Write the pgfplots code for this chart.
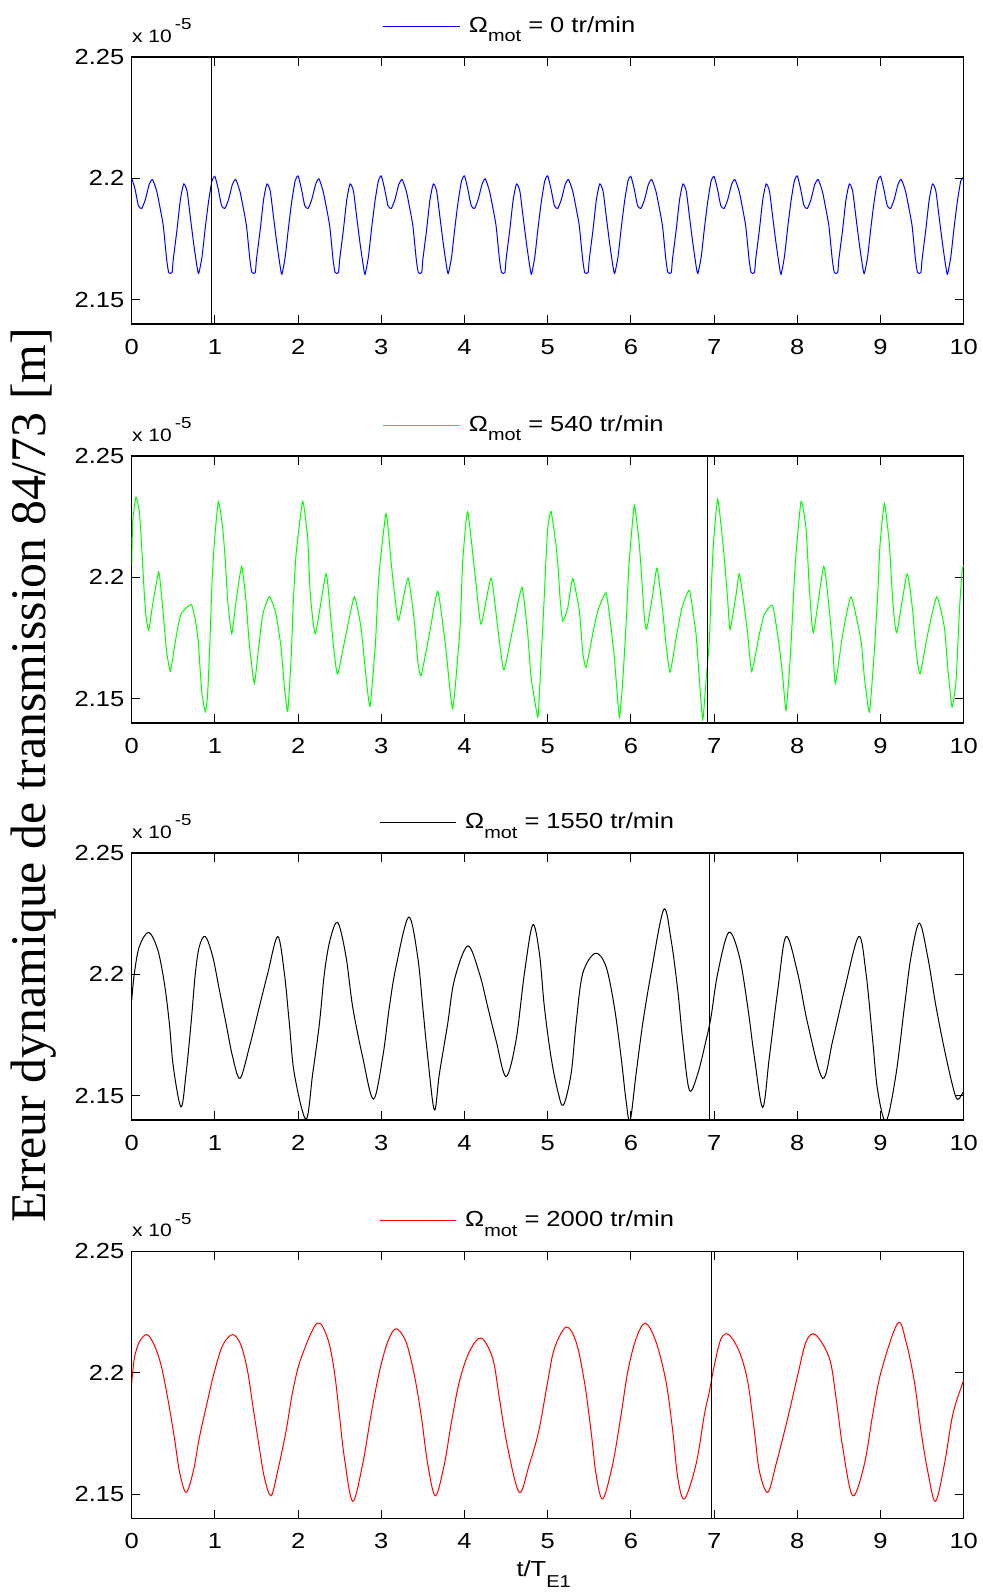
\documentclass[border=0pt]{standalone}
\usepackage{pgfplots}
\pgfplotsset{compat=1.18}
\usepackage{fontspec}
\setmainfont{Liberation Sans}[FakeStretch=1.17]
\newfontfamily\serifbig{Liberation Serif}

\pgfplotsset{
  panel/.style={
    scale only axis, width=416pt, height=133.5pt,
    xmin=0, xmax=10, ymin=2.14, ymax=2.25,
    xtick={0,1,...,10}, ytick={2.15,2.2,2.25},
    tick align=inside, major tick length=4.3pt,
    tick style={black, line width=0.5pt},
    axis line style={black, line width=0.6pt},
    clip mode=individual,
    /pgf/number format/assume math mode=true,
    ticklabel style={font=\fontsize{10.9}{13}\selectfont},
    xticklabel style={anchor=north, inner sep=0pt, yshift=-7.5pt},
    yticklabel style={anchor=east, inner sep=0pt, xshift=-3.5pt},
    legend cell align=left,
    legend style={at={(axis description cs:0.3015,1)}, anchor=west, yshift=15.4pt,
      draw=none, fill=none, inner sep=0pt, font=\fontsize{10.9}{13}\selectfont},
    legend image code/.code={\draw[#1] (0pt,0pt) -- (38.35pt,0pt); \path (40.5pt,0pt);},
  },
}
\newcommand{\xten}{\node[anchor=base west, inner sep=0pt, font=\fontsize{9}{10}\selectfont, yshift=7.3pt] at (rel axis cs:0,1) {x 10\hspace{1.5pt}\raisebox{6.3pt}{\fontsize{8}{9}\selectfont -5}};}
\newcommand{\mot}{\raisebox{-4.7pt}{\fontsize{8.5}{9}\selectfont mot}}

\begin{document}
\begin{tikzpicture}
\path[use as bounding box] (0,0) rectangle (491.5pt,-796.5pt);

% ---------- Panel 1 : 0 tr/min ----------
\begin{axis}[panel, at={(65.85pt,-162pt)}, anchor=south west]
\addplot[blue, line width=0.5pt, smooth, tension=0.35] coordinates {
(0,2.2000)(0.04,2.1956)(0.08,2.1888)(0.12,2.1876)(0.165,2.1914)(0.21,2.1975)(0.25,2.1995)(0.30,2.1948)(0.34,2.1880)(0.38,2.1803)(0.42,2.1667)(0.445,2.1612)(0.485,2.1612)(0.50,2.1667)(0.545,2.1790)(0.585,2.1912)(0.625,2.1977)(0.665,2.1948)(0.705,2.1839)(0.745,2.1731)(0.785,2.1636)(0.805,2.1608)(0.845,2.1677)(0.885,2.1799)(0.925,2.1908)(0.965,2.1990)
(1,2.2008)(1.04,2.1956)(1.08,2.1888)(1.12,2.1876)(1.165,2.1914)(1.21,2.1975)(1.25,2.1995)(1.30,2.1948)(1.34,2.1880)(1.38,2.1803)(1.42,2.1667)(1.445,2.1612)(1.485,2.1612)(1.50,2.1667)(1.545,2.1790)(1.585,2.1912)(1.625,2.1977)(1.665,2.1948)(1.705,2.1839)(1.745,2.1731)(1.785,2.1636)(1.805,2.1605)(1.845,2.1677)(1.885,2.1799)(1.925,2.1908)(1.965,2.1990)
(2,2.2010)(2.04,2.1956)(2.08,2.1888)(2.12,2.1876)(2.165,2.1914)(2.21,2.1975)(2.25,2.1998)(2.30,2.1948)(2.34,2.1880)(2.38,2.1803)(2.42,2.1667)(2.445,2.1612)(2.485,2.1612)(2.50,2.1667)(2.545,2.1790)(2.585,2.1912)(2.625,2.1977)(2.665,2.1948)(2.705,2.1839)(2.745,2.1731)(2.785,2.1636)(2.805,2.1605)(2.845,2.1677)(2.885,2.1799)(2.925,2.1908)(2.965,2.1990)
(3,2.2010)(3.04,2.1956)(3.08,2.1888)(3.12,2.1876)(3.165,2.1914)(3.21,2.1975)(3.25,2.1995)(3.30,2.1948)(3.34,2.1880)(3.38,2.1803)(3.42,2.1667)(3.445,2.1612)(3.485,2.1612)(3.50,2.1667)(3.545,2.1790)(3.585,2.1912)(3.625,2.1977)(3.665,2.1948)(3.705,2.1839)(3.745,2.1731)(3.785,2.1636)(3.805,2.1608)(3.845,2.1677)(3.885,2.1799)(3.925,2.1908)(3.965,2.1990)
(4,2.2010)(4.04,2.1956)(4.08,2.1888)(4.12,2.1876)(4.165,2.1914)(4.21,2.1975)(4.25,2.1998)(4.30,2.1948)(4.34,2.1880)(4.38,2.1803)(4.42,2.1667)(4.445,2.1612)(4.485,2.1612)(4.50,2.1667)(4.545,2.1790)(4.585,2.1912)(4.625,2.1977)(4.665,2.1948)(4.705,2.1839)(4.745,2.1731)(4.785,2.1636)(4.805,2.1605)(4.845,2.1677)(4.885,2.1799)(4.925,2.1908)(4.965,2.1990)
(5,2.2010)(5.04,2.1956)(5.08,2.1888)(5.12,2.1876)(5.165,2.1914)(5.21,2.1975)(5.25,2.1995)(5.30,2.1948)(5.34,2.1880)(5.38,2.1803)(5.42,2.1667)(5.445,2.1612)(5.485,2.1612)(5.50,2.1667)(5.545,2.1790)(5.585,2.1912)(5.625,2.1977)(5.665,2.1948)(5.705,2.1839)(5.745,2.1731)(5.785,2.1636)(5.805,2.1608)(5.845,2.1677)(5.885,2.1799)(5.925,2.1908)(5.965,2.1990)
(6,2.2008)(6.04,2.1956)(6.08,2.1888)(6.12,2.1876)(6.165,2.1914)(6.21,2.1975)(6.25,2.1995)(6.30,2.1948)(6.34,2.1880)(6.38,2.1803)(6.42,2.1667)(6.445,2.1612)(6.485,2.1612)(6.50,2.1667)(6.545,2.1790)(6.585,2.1912)(6.625,2.1977)(6.665,2.1948)(6.705,2.1839)(6.745,2.1731)(6.785,2.1636)(6.805,2.1608)(6.845,2.1677)(6.885,2.1799)(6.925,2.1908)(6.965,2.1990)
(7,2.2008)(7.04,2.1956)(7.08,2.1888)(7.12,2.1876)(7.165,2.1914)(7.21,2.1975)(7.25,2.1995)(7.30,2.1948)(7.34,2.1880)(7.38,2.1803)(7.42,2.1667)(7.445,2.1612)(7.485,2.1612)(7.50,2.1667)(7.545,2.1790)(7.585,2.1912)(7.625,2.1977)(7.665,2.1948)(7.705,2.1839)(7.745,2.1731)(7.785,2.1636)(7.805,2.1605)(7.845,2.1677)(7.885,2.1799)(7.925,2.1908)(7.965,2.1990)
(8,2.2010)(8.04,2.1956)(8.08,2.1888)(8.12,2.1876)(8.165,2.1914)(8.21,2.1975)(8.25,2.1995)(8.30,2.1948)(8.34,2.1880)(8.38,2.1803)(8.42,2.1667)(8.445,2.1612)(8.485,2.1612)(8.50,2.1667)(8.545,2.1790)(8.585,2.1912)(8.625,2.1977)(8.665,2.1948)(8.705,2.1839)(8.745,2.1731)(8.785,2.1636)(8.805,2.1608)(8.845,2.1677)(8.885,2.1799)(8.925,2.1908)(8.965,2.1990)
(9,2.2008)(9.04,2.1956)(9.08,2.1888)(9.12,2.1876)(9.165,2.1914)(9.21,2.1975)(9.25,2.1995)(9.30,2.1948)(9.34,2.1880)(9.38,2.1803)(9.42,2.1667)(9.445,2.1612)(9.485,2.1612)(9.50,2.1667)(9.545,2.1790)(9.585,2.1912)(9.625,2.1977)(9.665,2.1948)(9.705,2.1839)(9.745,2.1731)(9.785,2.1636)(9.805,2.1605)(9.845,2.1677)(9.885,2.1799)(9.925,2.1908)(9.965,2.1990)
(10,2.2005)
};
\addlegendentry{Ω\mot{} = 0 tr/min}
\addplot[black, line width=0.5pt, forget plot] coordinates {(0.96,2.14)(0.96,2.25)};
\xten
\end{axis}

% ---------- Panel 2 : 540 tr/min ----------
\begin{axis}[panel, at={(65.85pt,-361.5pt)}, anchor=south west]
\addplot[green, line width=0.5pt, smooth, tension=0.3] coordinates {
(0,2.2050)(0.012,2.2229)(0.052,2.2331)(0.092,2.2270)(0.112,2.2174)(0.132,2.2052)(0.152,2.1929)(0.172,2.1841)(0.204,2.1783)(0.252,2.1888)(0.325,2.2022)(0.365,2.1902)(0.393,2.1793)(0.421,2.1691)(0.465,2.1613)(0.513,2.1711)(0.561,2.1807)(0.601,2.1854)(0.717,2.1888)(0.773,2.1807)(0.801,2.1732)(0.821,2.1629)(0.845,2.1520)(0.885,2.1446)(0.913,2.1520)(0.942,2.1752)(0.966,2.1984)(0.994,2.2147)
(1.042,2.2313)(1.094,2.2202)(1.126,2.2065)(1.154,2.1902)(1.202,2.1768)(1.254,2.1902)(1.322,2.2045)(1.374,2.1902)(1.414,2.1725)(1.474,2.1564)(1.526,2.1711)(1.575,2.1847)(1.655,2.1921)(1.735,2.1847)(1.795,2.1711)(1.835,2.1548)(1.875,2.1448)(1.915,2.1657)(1.943,2.1902)(1.975,2.2093)
(2.055,2.2313)(2.115,2.2161)(2.147,2.1929)(2.208,2.1768)(2.336,2.2015)(2.396,2.1820)(2.436,2.1684)(2.476,2.1602)(2.576,2.1766)(2.676,2.1920)(2.756,2.1793)(2.817,2.1589)(2.865,2.1469)(2.929,2.1725)(2.969,2.1997)
(3.057,2.2263)(3.117,2.2065)(3.169,2.1902)(3.209,2.1823)(3.321,2.1997)(3.397,2.1820)(3.438,2.1657)(3.478,2.1595)(3.578,2.1766)(3.678,2.1943)(3.770,2.1725)(3.858,2.1459)(3.946,2.1793)(3.978,2.2065)
(4.038,2.2270)(4.131,2.1997)(4.199,2.1807)(4.319,2.1997)(4.399,2.1793)(4.439,2.1684)(4.479,2.1620)(4.599,2.1820)(4.692,2.1959)(4.760,2.1766)(4.800,2.1589)(4.880,2.1425)
(4.900,2.1520)(4.932,2.1738)(4.960,2.1929)(4.980,2.2079)(5.000,2.2202)(5.040,2.2272)(5.100,2.2134)(5.128,2.2025)(5.148,2.1916)(5.180,2.1820)(5.241,2.1875)(5.301,2.1995)(5.381,2.1861)(5.421,2.1691)(5.461,2.1629)(5.541,2.1766)(5.601,2.1861)(5.701,2.1936)(5.761,2.1793)(5.801,2.1670)(5.829,2.1548)(5.862,2.1425)(5.894,2.1534)(5.922,2.1684)(5.950,2.1861)(5.974,2.2038)
(6.002,2.2161)(6.042,2.2297)(6.094,2.2161)(6.122,2.2038)(6.162,2.1834)(6.190,2.1786)(6.262,2.1929)(6.314,2.2038)(6.382,2.1861)(6.422,2.1725)(6.471,2.1609)(6.551,2.1766)(6.615,2.1875)(6.703,2.1946)(6.783,2.1766)(6.815,2.1616)(6.863,2.1414)(6.903,2.1575)(6.943,2.1738)(6.963,2.1929)(6.991,2.2134)
(7.043,2.2322)(7.104,2.2147)(7.136,2.2025)(7.164,2.1902)(7.192,2.1786)(7.264,2.1929)(7.304,2.2015)(7.364,2.1875)(7.404,2.1766)(7.452,2.1613)(7.544,2.1766)(7.604,2.1847)(7.704,2.1884)(7.785,2.1711)(7.825,2.1589)(7.865,2.1452)(7.913,2.1657)(7.945,2.1861)(7.977,2.2065)
(8.045,2.2313)(8.105,2.2202)(8.145,2.1956)(8.193,2.1772)(8.317,2.2045)(8.386,2.1861)(8.426,2.1711)(8.458,2.1564)(8.546,2.1766)(8.646,2.1920)(8.766,2.1738)(8.806,2.1589)(8.866,2.1446)(8.918,2.1657)(8.966,2.1929)(8.994,2.2134)
(9.047,2.2304)(9.107,2.2134)(9.147,2.1902)(9.195,2.1772)(9.319,2.2014)(9.387,2.1861)(9.427,2.1698)(9.475,2.1602)(9.567,2.1766)(9.676,2.1920)(9.768,2.1793)(9.808,2.1629)(9.860,2.1466)(9.908,2.1575)(9.948,2.1861)(9.980,2.2025)(10,2.2050)
};
\addlegendentry{Ω\mot{} = 540 tr/min}
\addplot[black, line width=0.5pt, forget plot] coordinates {(6.923,2.14)(6.923,2.25)};
\xten
\end{axis}

% ---------- Panel 3 : 1550 tr/min ----------
\begin{axis}[panel, at={(65.85pt,-560pt)}, anchor=south west,
  legend style={at={(axis description cs:0.297,1)}}]
\addplot[black, line width=0.5pt, smooth, tension=0.55] coordinates {
(0,2.1894)(0.032,2.2004)(0.092,2.2115)(0.204,2.2173)(0.313,2.2101)(0.393,2.1963)(0.453,2.1797)(0.501,2.1617)(0.593,2.1454)(0.653,2.1590)(0.713,2.1797)(0.765,2.2004)(0.813,2.2115)(0.885,2.2156)(0.974,2.2073)
(1.054,2.1935)(1.134,2.1797)(1.214,2.1659)(1.302,2.1572)(1.414,2.1700)(1.534,2.1866)(1.635,2.2004)(1.755,2.2156)(1.835,2.2004)(1.895,2.1797)(1.955,2.1590)
(2.095,2.1403)(2.175,2.1590)(2.256,2.1797)(2.316,2.2004)(2.384,2.2142)(2.476,2.2214)(2.576,2.2073)(2.656,2.1866)(2.776,2.1659)(2.905,2.1486)
(3.017,2.1659)(3.097,2.1866)(3.177,2.2032)(3.329,2.2236)(3.437,2.2073)(3.498,2.1866)(3.558,2.1659)(3.638,2.1441)(3.698,2.1590)(3.798,2.1797)(3.878,2.1977)
(4.038,2.2117)(4.179,2.2004)(4.279,2.1866)(4.379,2.1728)(4.499,2.1579)(4.619,2.1728)(4.720,2.2004)(4.820,2.2204)(4.900,2.2087)(4.960,2.1866)
(5.040,2.1659)(5.120,2.1521)(5.188,2.1461)(5.281,2.1590)(5.341,2.1797)(5.421,2.2004)(5.573,2.2087)(5.701,2.2032)(5.801,2.1866)(5.882,2.1659)(5.942,2.1479)(5.990,2.1396)
(6.062,2.1590)(6.142,2.1797)(6.242,2.2004)(6.394,2.2267)(6.483,2.2142)(6.563,2.1935)(6.623,2.1728)(6.703,2.1523)(6.803,2.1590)(6.903,2.1728)(6.963,2.1825)
(7.043,2.2004)(7.176,2.2173)(7.304,2.2073)(7.404,2.1866)(7.484,2.1659)(7.584,2.1452)(7.664,2.1659)(7.765,2.1935)(7.865,2.2156)
(8.005,2.2004)(8.125,2.1797)(8.305,2.1572)(8.426,2.1728)(8.566,2.1935)(8.738,2.2156)(8.826,2.2004)(8.906,2.1728)(8.966,2.1521)
(9.067,2.1396)(9.187,2.1590)(9.287,2.1866)(9.367,2.2073)(9.467,2.2211)(9.567,2.2073)(9.668,2.1866)(9.788,2.1659)(9.908,2.1493)(9.980,2.1507)(10,2.1520)
};
\addlegendentry{Ω\mot{} = 1550 tr/min}
\addplot[black, line width=0.5pt, forget plot] coordinates {(6.943,2.14)(6.943,2.25)};
\xten
\end{axis}

% ---------- Panel 4 : 2000 tr/min ----------
\begin{axis}[panel, at={(65.85pt,-759.15pt)}, anchor=south west,
  legend style={at={(axis description cs:0.297,1)}},
  xlabel={t/T\raisebox{-5.5pt}{\fontsize{8.6}{9}\selectfont E1}},
  xlabel style={at={(axis description cs:0.5,0)}, anchor=base, inner sep=0pt,
    yshift=-29pt, xshift=-2pt, font=\fontsize{10.9}{13}\selectfont}]
\addplot[red, line width=0.5pt, smooth, tension=0.55] coordinates {
(0,2.1956)(0.032,2.2059)(0.092,2.2127)(0.184,2.2157)(0.272,2.2113)(0.353,2.2031)(0.433,2.1895)(0.513,2.1732)(0.573,2.1595)(0.653,2.1507)(0.741,2.1595)(0.813,2.1732)(0.901,2.1868)(0.994,2.2004)
(1.094,2.2113)(1.214,2.2157)(1.314,2.2113)(1.394,2.2004)(1.454,2.1868)(1.534,2.1691)(1.595,2.1568)(1.675,2.1493)(1.755,2.1595)(1.855,2.1759)(1.935,2.1922)
(2.035,2.2059)(2.228,2.2204)(2.356,2.2140)(2.436,2.2004)(2.496,2.1827)(2.556,2.1650)(2.656,2.1470)(2.776,2.1623)(2.877,2.1827)(2.977,2.2004)
(3.077,2.2127)(3.177,2.2181)(3.297,2.2127)(3.397,2.1990)(3.478,2.1827)(3.558,2.1623)(3.650,2.1493)(3.758,2.1623)(3.838,2.1786)(3.938,2.1963)
(4.058,2.2086)(4.199,2.2143)(4.339,2.2059)(4.419,2.1895)(4.519,2.1691)(4.659,2.1507)(4.780,2.1623)(4.892,2.1759)
(5.000,2.1963)(5.080,2.2099)(5.221,2.2188)(5.341,2.2127)(5.441,2.1963)(5.521,2.1759)(5.581,2.1582)(5.661,2.1480)(5.781,2.1623)(5.882,2.1827)(5.962,2.2004)
(6.062,2.2140)(6.174,2.2204)(6.302,2.2127)(6.422,2.1963)(6.503,2.1759)(6.563,2.1568)(6.643,2.1480)(6.783,2.1623)(6.883,2.1827)(6.943,2.1922)
(7.003,2.2031)(7.084,2.2140)(7.176,2.2157)(7.304,2.2086)(7.404,2.1963)(7.484,2.1759)(7.544,2.1595)(7.644,2.1507)(7.745,2.1623)(7.885,2.1813)
(8.005,2.1990)(8.105,2.2127)(8.217,2.2157)(8.386,2.2059)(8.466,2.1895)(8.546,2.1691)(8.666,2.1493)(8.806,2.1623)(8.906,2.1827)
(9.007,2.2004)(9.207,2.2204)(9.307,2.2127)(9.407,2.1963)(9.487,2.1759)(9.567,2.1595)(9.660,2.1470)(9.768,2.1623)(9.868,2.1827)(9.980,2.1950)(10,2.1970)
};
\addlegendentry{Ω\mot{} = 2000 tr/min}
\addplot[black, line width=0.5pt, forget plot] coordinates {(6.964,2.14)(6.964,2.25)};
\xten
\end{axis}

\node[rotate=90, anchor=base, inner sep=0pt, font=\serifbig\fontsize{24.9}{29}\selectfont]
  at (22.85pt,-387.75pt) {Erreur dynamique de transmission 84/73 [m]};
\end{tikzpicture}
\end{document}
